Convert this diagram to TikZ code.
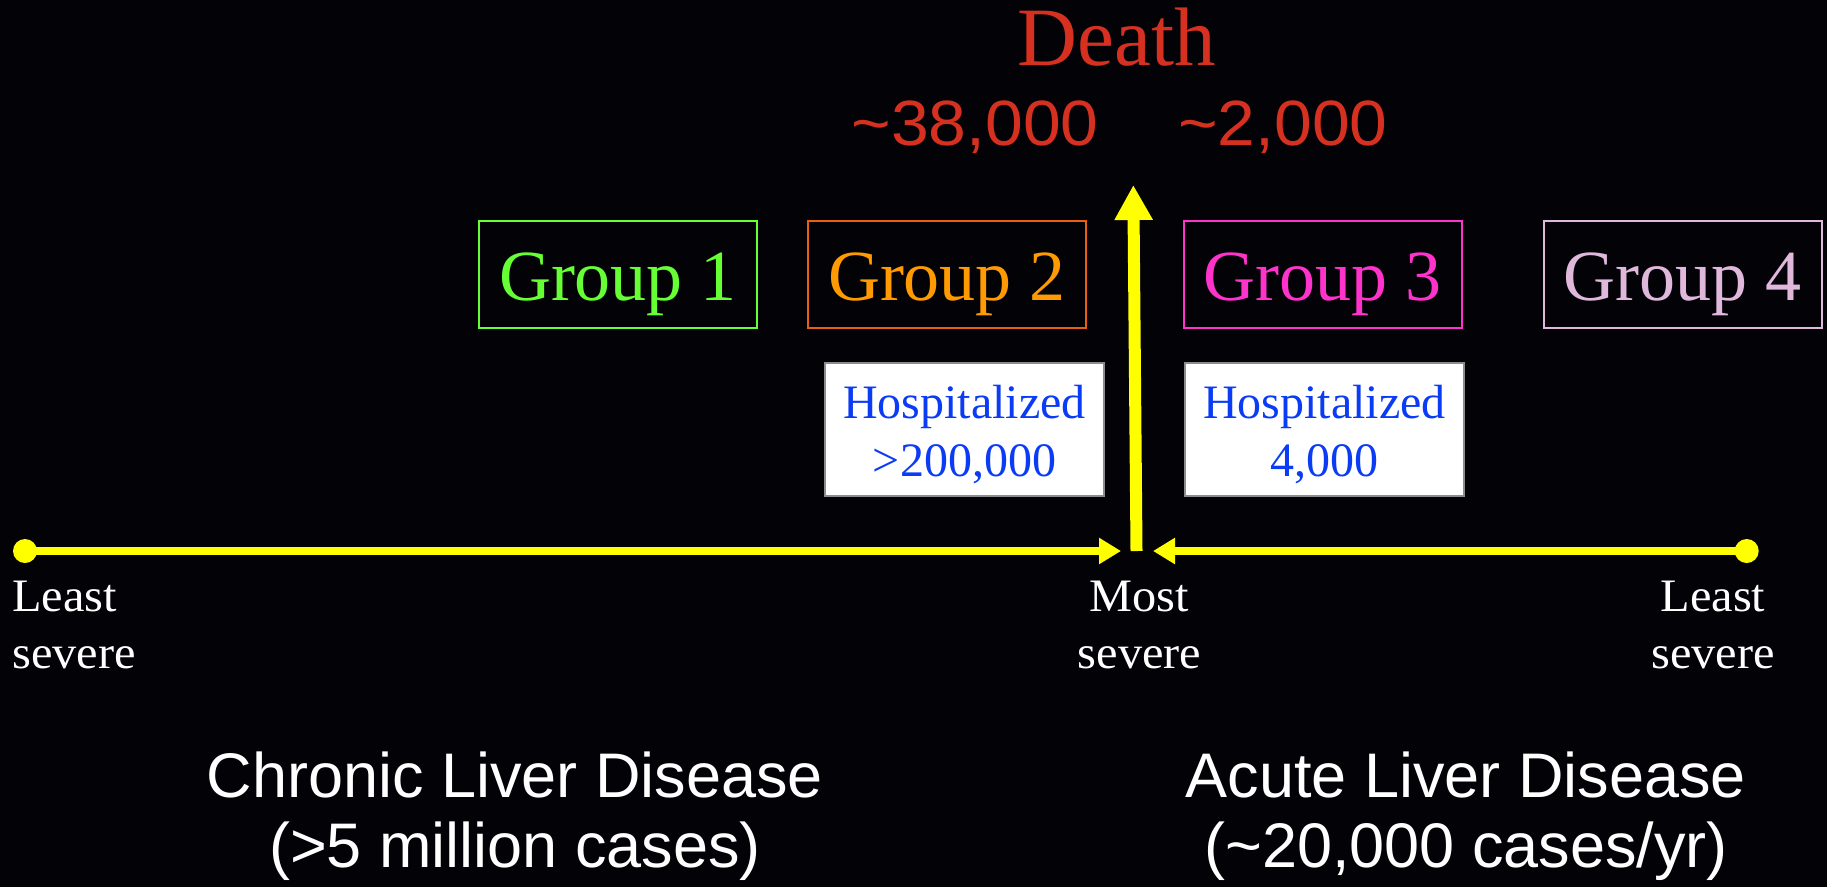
\documentclass[tikz,border=0pt]{standalone}
\usepackage{fontspec}
\setmainfont{Liberation Serif}
\newfontfamily\grpfont{Liberation Serif}
\newfontfamily\hospfont{Liberation Serif}
\newfontfamily\deathfont{Liberation Serif}
\newfontfamily\sevfont[FakeStretch=1.04]{Liberation Serif}
\newfontfamily\numfont[FakeStretch=1.06]{Liberation Sans}
\newfontfamily\botfont{Liberation Sans}
\usetikzlibrary{arrows.meta}
\definecolor{bgc}{HTML}{020207}
\definecolor{yel}{HTML}{FFFF00}
\definecolor{redc}{HTML}{D63020}
\definecolor{grn}{HTML}{66FF33}
\definecolor{orgb}{HTML}{E8600F}
\definecolor{orgt}{HTML}{FF9A00}
\definecolor{mag}{HTML}{FF33CC}
\definecolor{pnk}{HTML}{E0B8DC}
\definecolor{bluc}{HTML}{0A3CF5}
\definecolor{grayb}{HTML}{8C8C8C}
\tikzset{
  grpbox/.style={draw, line width=2pt, minimum width=278pt, minimum height=107pt,
    inner sep=0pt, text height=60pt, text depth=8pt,
    font=\grpfont\fontsize{72}{80}\selectfont},
  hospbox/.style={draw=grayb, fill=white, line width=1.5pt, minimum width=279pt,
    minimum height=133pt, inner sep=0pt},
  hosptext/.style={text=bluc, inner sep=0pt, anchor=base,
    font=\hospfont\fontsize{48}{58}\selectfont},
  sevtext/.style={text=white, inner sep=0pt,
    font=\sevfont\fontsize{46.5}{56}\selectfont},
  bottext/.style={text=white, inner sep=0pt, anchor=base,
    font=\botfont\fontsize{63}{70}\selectfont},
  numtext/.style={text=redc, inner sep=0pt, anchor=base,
    font=\numfont\fontsize{64}{70}\selectfont},
  enddot/.style={circle, fill=yel, minimum size=24pt, inner sep=0pt},
  yline/.style={draw=yel, line width=8pt},
}
\begin{document}
\begin{tikzpicture}[x=1pt, y=-1pt]
\fill[bgc] (0,0) rectangle (1827,887);
\useasboundingbox (0,0) rectangle (1827,887);

% Death
\node[text=redc, inner sep=0pt, anchor=base, font=\deathfont\fontsize{83}{90}\selectfont] (death) at (1117,65) {Death};
\node[numtext] (n1) at (975,145) {\textasciitilde 38,000};
\node[numtext] (n2) at (1283,145) {\textasciitilde 2,000};

% Groups
\node[grpbox, draw=grn, text=grn] (g1) at (618,274.5) {Group 1};
\node[grpbox, draw=orgb, text=orgt] (g2) at (947,274.5) {Group 2};
\node[grpbox, draw=mag, text=mag] (g3) at (1322.5,274.5) {Group 3};
\node[grpbox, draw=pnk, text=pnk] (g4) at (1682.5,274.5) {Group 4};

% Hospitalized boxes
\node[hospbox] (h1) at (964.5,429.5) {};
\node[hosptext] (h1a) at (964.5,418) {Hospitalized};
\node[hosptext] (h1b) at (964.5,476.7) {>200,000};
\node[hospbox] (h2) at (1324.5,429.5) {};
\node[hosptext] (h2a) at (1324.5,418) {Hospitalized};
\node[hosptext] (h2b) at (1324.5,476.7) {4,000};

% Axis
\node[enddot] (ld) at (25,551) {};
\node[enddot] (rd) at (1746.7,551) {};
\coordinate (mL) at (1121,551);
\coordinate (mR) at (1153,551);
\coordinate (vb) at (1136.5,551);
\coordinate (vt) at (1133.3,185);
\draw[yline, -{Triangle[length=22pt,width=25pt]}] (ld.center) -- (mL);
\draw[yline, -{Triangle[length=22pt,width=25pt]}] (rd.center) -- (mR);
\draw[draw=yel, line width=12pt, -{Triangle[length=35pt,width=36pt]}] (vb) -- (vt);

% Severity labels
\node[sevtext, anchor=base west] (ls1) at (12,611.7) {Least};
\node[sevtext, anchor=base west] (ls2) at (12,668) {severe};
\node[sevtext, anchor=base] (ms1) at (1139.5,611.7) {Most};
\node[sevtext, anchor=base] (ms2) at (1139.5,668) {severe};
\node[sevtext, anchor=base] (rs1) at (1713,611.7) {Least};
\node[sevtext, anchor=base] (rs2) at (1713,668) {severe};

% Bottom captions
\node[bottext] (c1) at (515,797.7) {Chronic Liver Disease};
\node[bottext] (c2) at (515,867) {(>5 million cases)};
\node[bottext] (a1) at (1466,797.7) {Acute Liver Disease};
\node[bottext] (a2) at (1466,867) {(\textasciitilde 20,000 cases/yr)};
\end{tikzpicture}
\end{document}
